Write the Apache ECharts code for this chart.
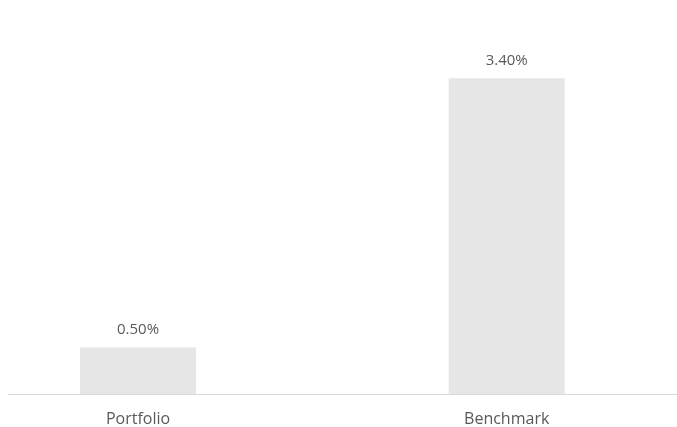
<!DOCTYPE html>
<html>
<head>
<meta charset="utf-8">
<script src="https://cdn.jsdelivr.net/npm/echarts@6/dist/echarts.min.js"></script>
<style>html,body{margin:0;padding:0;background:#fff;}#c{width:677px;height:427px;}</style>
</head>
<body>
<div id="c"></div>
<script>
const categories = ['Portfolio', 'Benchmark'];
const values = [0.5, 3.4];

const positions = categories.map((c, i) => i);
const chart = echarts.init(document.getElementById('c'));
const font = '"Open Sans", sans-serif';
chart.setOption({
  animation: false,
  grid: { left: 8, right: 0, top: 22.5, bottom: 32.5 },
  xAxis: {
    type: 'value', min: -0.3526, max: 1.4619,
    splitLine: { show: false },
    axisLine: { show: true, onZero: false, lineStyle: { color: '#d9d9d9', width: 1 } },
    axisTick: { show: false },
    axisLabel: {
      customValues: positions,
      formatter: v => categories[Math.round(v)] || '',
      color: '#595959', fontSize: 16, fontFamily: font, margin: 17
    }
  },
  yAxis: { type: 'value', min: 0, max: 4, show: false, splitLine: { show: false } },
  series: [{
    type: 'bar',
    data: positions.map(i => [i, values[i]]),
    barWidth: 116,
    itemStyle: { color: '#e6e6e6' },
    label: {
      show: true, position: 'top', distance: 10,
      color: '#595959', fontSize: 15, fontFamily: font,
      formatter: p => p.value[1].toFixed(2) + '%'
    }
  }]
});
</script>
</body>
</html>
